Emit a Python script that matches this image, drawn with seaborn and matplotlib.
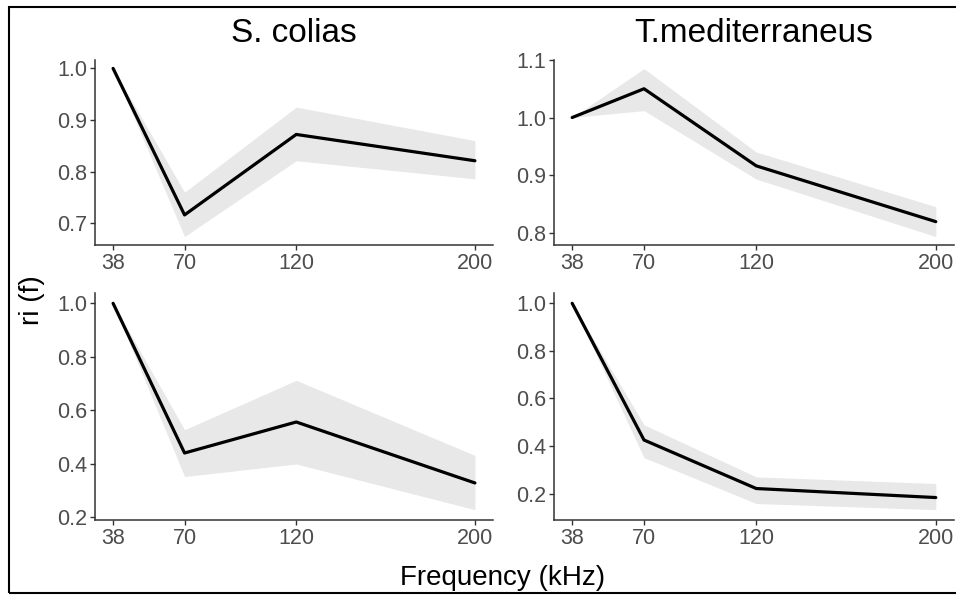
import matplotlib
matplotlib.use("Agg")
import matplotlib.pyplot as plt
import seaborn as sns
import pandas as pd
import numpy as np
from matplotlib.patches import Rectangle

sns.set_theme(style="ticks")
plt.rcParams['font.family'] = ['Liberation Sans', 'DejaVu Sans']

freq = [38, 70, 120, 200]
freq_ticks = [38, 70, 120, 200]

# top-left: S. colias (row 1)
scol1_mean = [1.0, 0.716, 0.872, 0.821]
scol1_lo = [1.0, 0.674, 0.821, 0.786]
scol1_hi = [1.0, 0.760, 0.925, 0.860]
# top-right: T.mediterraneus (row 1)
tmed1_mean = [1.0, 1.050, 0.916, 0.819]
tmed1_lo = [1.0, 1.012, 0.893, 0.793]
tmed1_hi = [1.0, 1.085, 0.940, 0.845]
# bottom-left: S. colias (row 2)
scol2_mean = [1.0, 0.440, 0.556, 0.328]
scol2_lo = [1.0, 0.352, 0.399, 0.228]
scol2_hi = [1.0, 0.527, 0.712, 0.431]
# bottom-right: T.mediterraneus (row 2)
tmed2_mean = [1.0, 0.425, 0.221, 0.183]
tmed2_lo = [1.0, 0.351, 0.158, 0.132]
tmed2_hi = [1.0, 0.489, 0.270, 0.242]

panels = [
    (scol1_mean, scol1_lo, scol1_hi, [0.7, 0.8, 0.9, 1.0], "{:.1f}"),
    (tmed1_mean, tmed1_lo, tmed1_hi, [0.8, 0.9, 1.0, 1.1], "{:.1f}"),
    (scol2_mean, scol2_lo, scol2_hi, [0.2, 0.4, 0.6, 0.8, 1.0], "{:.1f}"),
    (tmed2_mean, tmed2_lo, tmed2_hi, [0.2, 0.4, 0.6, 0.8, 1.0], "{:.1f}"),
]

W, H = 956, 595
fig = plt.figure(figsize=(W / 100, H / 100), dpi=100)

boxes = [(95, 60, 493, 245), (554, 60, 954, 245),
         (95, 293, 493, 520), (554, 293, 954, 520)]

grey_txt = "#4D4D4D"
for (mean, lo, hi, yt, fmt), (x0, y0, x1, y1) in zip(panels, boxes):
    ax = fig.add_axes([x0 / W, (H - y1) / H, (x1 - x0) / W, (y1 - y0) / H])
    df = pd.DataFrame({"freq": freq, "ri": mean, "lo": lo, "hi": hi})
    ax.fill_between(df["freq"], df["lo"], df["hi"], color="#E8E8E8", lw=0, zorder=1)
    sns.lineplot(data=df, x="freq", y="ri", ax=ax, color="black", lw=2.3, zorder=3)
    dmin = min(lo); dmax = max(hi)
    r = dmax - dmin
    ax.set_ylim(dmin - 0.05 * r, dmax + 0.05 * r)
    ax.set_xlim(38 - 0.05 * 162, 200 + 0.05 * 162)
    ax.set_xticks(freq_ticks)
    ax.set_xticklabels([str(v) for v in freq_ticks])
    ax.set_yticks(yt)
    ax.set_yticklabels([fmt.format(v) for v in yt])
    ax.set_xlabel("")
    ax.set_ylabel("")
    for s in ["top", "right"]:
        ax.spines[s].set_visible(False)
    for s in ["left", "bottom"]:
        ax.spines[s].set_color("#333333")
        ax.spines[s].set_linewidth(1.1)
    ax.tick_params(axis="both", labelsize=15.5, labelcolor=grey_txt, color="#333333",
                   length=3.5, width=1.0, pad=2)
    ax.set_facecolor("white")

fig.text(294 / W, 1 - 33 / H, "S. colias", ha="center", va="center", fontsize=24, color="black")
fig.text(754 / W, 1 - 33 / H, "T.mediterraneus", ha="center", va="center", fontsize=24, color="black")
fig.text(503 / W, 1 - 578 / H, "Frequency (kHz)", ha="center", va="center", fontsize=20, color="black")
fig.text(32 / W, 1 - 300 / H, "ri (f)", ha="center", va="center", rotation=90, fontsize=20, color="black")

fig.patches.append(Rectangle((9 / W, (H - 593) / H), 1.2, (593 - 7) / H,
                             transform=fig.transFigure, fill=False, edgecolor="black",
                             lw=1.5, zorder=10))

fig.savefig("out.png", dpi=100, facecolor="white")
